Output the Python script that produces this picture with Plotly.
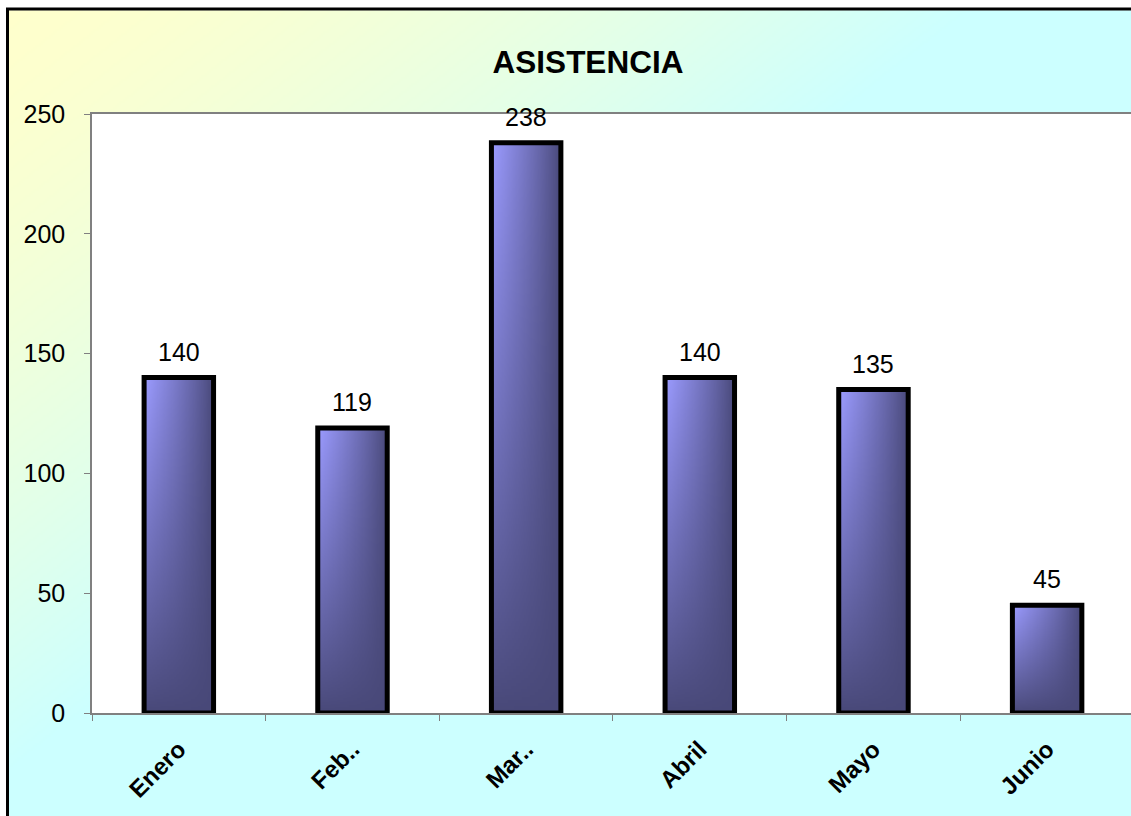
import base64
import struct
import zlib

import numpy as np
import plotly.graph_objects as go

# ---- data ----
months = ["Enero", "Feb..", "Mar..", "Abril", "Mayo", "Junio"]
asistencia = [140, 119, 238, 140, 135, 45]
y_ticks = [0, 50, 100, 150, 200, 250]

# ---- figure geometry (pixels) ----
W, H = 1131, 816
M_L, M_R, M_T, M_B = 92, 0, 114, 103
PW, PH = W - M_L - M_R, H - M_T - M_B


def px_x(x):
    return (x - M_L) / PW


def px_y(y):
    return 1 - (y - M_T) / PH


def png_uri(arr):
    """Encode an RGB uint8 array as a PNG data URI."""
    h, w, _ = arr.shape
    raw = b"".join(b"\x00" + arr[r].tobytes() for r in range(h))

    def chunk(tag, data):
        return (struct.pack(">I", len(data)) + tag + data
                + struct.pack(">I", zlib.crc32(tag + data) & 0xFFFFFFFF))

    png = (b"\x89PNG\r\n\x1a\n"
           + chunk(b"IHDR", struct.pack(">IIBBBBB", w, h, 8, 2, 0, 0, 0))
           + chunk(b"IDAT", zlib.compress(raw, 9))
           + chunk(b"IEND", b""))
    return "data:image/png;base64," + base64.b64encode(png).decode()


# chart-area background: diagonal pale yellow -> pale cyan
gy, gx = np.mgrid[0:H:2, 0:W:2].astype(float)
t = np.clip(gx / 1131 * 1.15 + gy / 816 * 1.05, 0, 1) ** 1.5
yellow = np.array([255, 255, 204], float)
cyan = np.array([204, 255, 255], float)
bg = yellow[None, None, :] * (1 - t[..., None]) + cyan[None, None, :] * t[..., None]
bg[(gx < 8) | (gy < 9)] = 255
bg_uri = png_uri(bg.round().astype(np.uint8))

# bar fill: light blue-violet at top-left fading to dark slate
by, bx = np.mgrid[0:200, 0:60].astype(float)
u = bx / 59
v = by / 199
k = np.clip((1 - u) ** 0.85 * (1 - v) ** 0.9, 0, 1)
light = np.array([155, 155, 255], float)
dark = np.array([72, 72, 120], float)
bar = dark[None, None, :] * (1 - k[..., None]) + light[None, None, :] * k[..., None]
bar_uri = png_uri(bar.round().astype(np.uint8))

BAR_W = 0.4

fig = go.Figure()
fig.add_trace(go.Bar(
    x=months,
    y=asistencia,
    width=BAR_W,
    marker=dict(color="rgba(0,0,0,0)", line=dict(color="black", width=5)),
    hoverinfo="skip",
))

images = [dict(
    source=bg_uri, xref="paper", yref="paper",
    x=px_x(0), y=px_y(0), sizex=W / PW, sizey=H / PH,
    xanchor="left", yanchor="top", sizing="stretch", layer="below",
)]
for i, val in enumerate(asistencia):
    images.append(dict(
        source=bar_uri, xref="x", yref="y",
        x=i - BAR_W / 2, y=val, sizex=BAR_W, sizey=val,
        xanchor="left", yanchor="top", sizing="stretch", layer="below",
    ))

annotations = [dict(
    x=m, y=val, xref="x", yref="y", text=str(val), showarrow=False,
    yanchor="middle", yshift=26,
    font=dict(family="Liberation Sans, Arial", size=25, color="black"),
) for m, val in zip(months, asistencia)]

shapes = [
    # white plot area
    dict(type="rect", xref="x domain", yref="y domain", x0=0, x1=1, y0=0, y1=1,
         fillcolor="white", line=dict(width=0), layer="below"),
    # chart frame
    dict(type="rect", xref="paper", yref="paper",
         x0=px_x(7.5), x1=px_x(1160), y0=px_y(840), y1=px_y(9),
         line=dict(color="black", width=3), fillcolor="rgba(0,0,0,0)"),
]

fig.update_layout(
    width=W, height=H,
    margin=dict(l=M_L, r=M_R, t=M_T, b=M_B, pad=0),
    paper_bgcolor="white",
    plot_bgcolor="white",
    showlegend=False,
    images=images,
    annotations=annotations,
    shapes=shapes,
    title=dict(
        text="ASISTENCIA", x=588 / W, xref="container", xanchor="center",
        y=1 - 62 / H, yref="container", yanchor="middle",
        font=dict(family="Liberation Sans, Arial", size=31.5, color="black", weight="bold"),
    ),
    font=dict(family="Liberation Sans, Arial", color="black"),
)

fig.update_xaxes(
    type="category",
    range=[-0.5, 5.483],
    tickson="boundaries",
    ticks="outside", ticklen=6, tickwidth=1, tickcolor="#808080",
    tickangle=-45, ticklabelstandoff=11,
    tickfont=dict(family="Liberation Sans, Arial", size=24, color="black", weight="bold"),
    showline=True, linecolor="#808080", linewidth=1.5, mirror=True,
    showgrid=False, zeroline=False, automargin=False,
)
fig.update_yaxes(
    range=[0, 250],
    tickmode="array", tickvals=y_ticks,
    ticks="outside", ticklen=6, tickwidth=1, tickcolor="#808080",
    ticklabelstandoff=14,
    tickfont=dict(family="Liberation Sans, Arial", size=25, color="black"),
    showline=True, linecolor="#808080", linewidth=1.5,
    showgrid=False, zeroline=False, automargin=False,
)

fig.write_html("out.html")
